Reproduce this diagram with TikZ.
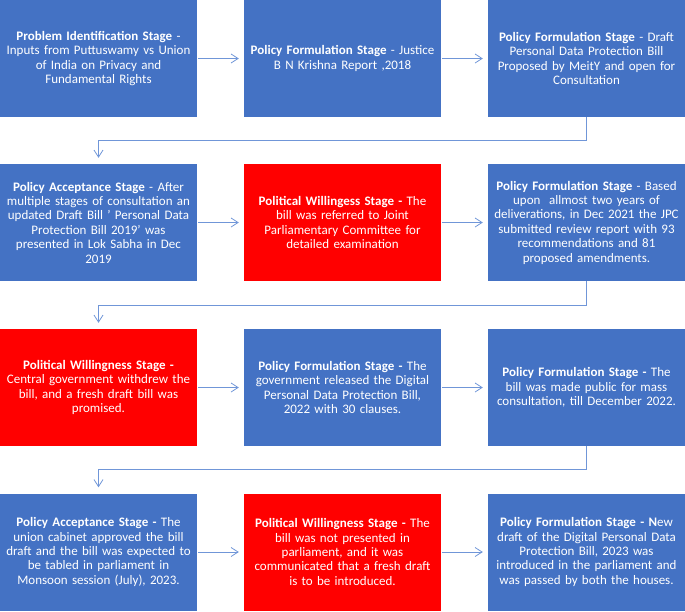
\documentclass[tikz,border=0pt]{standalone}
\usepackage{fontspec}
\setmainfont{Carlito}
\usetikzlibrary{arrows.meta,calc}
\definecolor{boxblue}{HTML}{4472C4}
\definecolor{boxred}{HTML}{FF0000}
\definecolor{linkblue}{HTML}{7096D8}
\tikzset{
  stagebox/.style={rectangle, fill=#1, draw=none, minimum width=197pt, minimum height=117pt,
    inner sep=0pt, text width=197pt, align=center, text=white,
    font=\fontsize{13pt}{14.4pt}\selectfont},
  conn/.style={draw=linkblue, line width=0.8pt, -{Straight Barb[length=7pt,width=9pt,line width=0.8pt]}},
}
\begin{document}
\begin{tikzpicture}[x=1pt,y=-1pt]
\useasboundingbox (0,0) rectangle (685,611);
% row 1
\node[stagebox=boxblue] (r1c1) at (98.5,58.5) {\textbf{Problem Identification Stage} -\\Inputs from Puttuswamy vs Union\\of India on Privacy and\\Fundamental Rights};
\node[stagebox=boxblue] (r1c2) at (342.5,58.5) {\textbf{Policy Formulation Stage} - Justice\\B N Krishna Report ,2018};
\node[stagebox=boxblue] (r1c3) at (586.5,58.5) {\textbf{Policy Formulation Stage} - Draft\\Personal Data Protection Bill\\Proposed by MeitY and open for\\Consultation};
% row 2
\node[stagebox=boxblue] (r2c1) at (98.5,222.5) {\textbf{Policy Acceptance Stage} - After\\multiple stages of consultation an\\updated Draft Bill ' Personal Data\\Protection Bill 2019' was\\presented in Lok Sabha in Dec\\2019};
\node[stagebox=boxred] (r2c2) at (342.5,222.5) {\textbf{Political Willingess Stage -} The\\bill was referred to Joint\\Parliamentary Committee for\\detailed examination};
\node[stagebox=boxblue] (r2c3) at (586.5,222.5) {\textbf{Policy Formulation Stage} - Based\\upon\ \ allmost two years of\\deliverations, in Dec 2021 the JPC\\submitted review report with 93\\recommendations and 81\\proposed amendments.};
% row 3
\node[stagebox=boxred] (r3c1) at (98.5,387.5) {\textbf{Political Willingness Stage -}\\Central government withdrew the\\bill, and a fresh draft bill was\\promised.};
\node[stagebox=boxblue] (r3c2) at (342.5,387.5) {\textbf{Policy Formulation Stage -} The\\government released the Digital\\Personal Data Protection Bill,\\2022 with 30 clauses.};
\node[stagebox=boxblue] (r3c3) at (586.5,387.5) {\textbf{Policy Formulation Stage -} The\\bill was made public for mass\\consultation, till December 2022.};
% row 4
\node[stagebox=boxblue] (r4c1) at (98.5,552) {\textbf{Policy Acceptance Stage -} The\\union cabinet approved the bill\\draft and the bill was expected to\\be tabled in parliament in\\Monsoon session (July), 2023.};
\node[stagebox=boxred] (r4c2) at (342.5,552) {\textbf{Political Willingness Stage -} The\\bill was not presented in\\parliament, and it was\\communicated that a fresh draft\\is to be introduced.};
\node[stagebox=boxblue] (r4c3) at (586.5,552) {\textbf{Policy Formulation Stage - N}ew\\draft of the Digital Personal Data\\Protection Bill, 2023 was\\introduced in the parliament and\\was passed by both the houses.};
% elbow levels
\coordinate (m1) at (0,140.5);
\coordinate (m2) at (0,305);
\coordinate (m3) at (0,469.5);
% horizontal connectors
\foreach \r in {1,2,3,4}{
  \draw[conn, shorten <=1pt, shorten >=5pt] (r\r c1.east) -- (r\r c2.west);
  \draw[conn, shorten <=1pt, shorten >=5pt] (r\r c2.east) -- (r\r c3.west);
}
% elbow connectors
\draw[conn, shorten >=6pt] (r1c3.south) -- (r1c3.south |- m1) -| (r2c1.north);
\draw[conn, shorten >=6pt] (r2c3.south) -- (r2c3.south |- m2) -| (r3c1.north);
\draw[conn, shorten >=6pt] (r3c3.south) -- (r3c3.south |- m3) -| (r4c1.north);
\end{tikzpicture}
\end{document}
